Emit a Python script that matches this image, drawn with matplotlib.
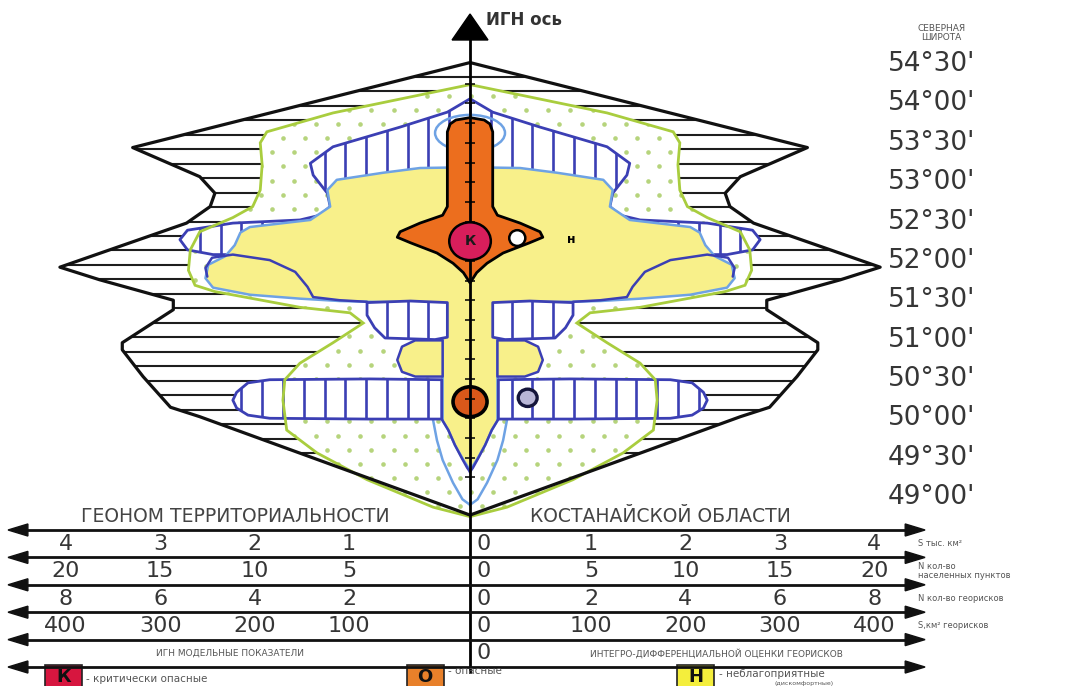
import numpy as np
import matplotlib
matplotlib.use("Agg")
import matplotlib.pyplot as plt
from matplotlib.patches import Polygon, Ellipse, Rectangle

plt.rcParams["font.family"] = ["DejaVu Sans"]

# ---------------------------------------------------------------- data ----
# Northern latitude scale (degrees)
lat_values = [54.5, 54.0, 53.5, 53.0, 52.5, 52.0, 51.5, 51.0, 50.5, 50.0, 49.5, 49.0]
lat_labels = ["54°30'", "54°00'", "53°30'", "53°00'", "52°30'", "52°00'",
              "51°30'", "51°00'", "50°30'", "50°00'", "49°30'", "49°00'"]

# Zone outlines: latitude (deg) and half-width (thousand km²) along the
# western edge; the eastern edge mirrors it across the ИГН axis.
territory_lat = [54.52, 53.44, 53.07, 52.86, 52.69, 52.48, 51.92, 51.76, 51.50,
                 51.38, 50.96, 50.87, 50.53, 50.14, 50.02, 48.77]
territory_w = [0.00, 3.57, 2.86, 2.70, 2.75, 3.00, 4.34, 3.92, 3.14,
               3.14, 3.68, 3.68, 3.46, 3.17, 2.86, 0.00]

dotted_lat = [54.24, 53.88, 53.64, 53.50, 53.22, 52.90, 52.69, 52.55, 52.37, 52.14,
              51.88, 51.69, 51.61, 51.41, 51.34, 51.21, 50.96, 50.70, 50.49, 50.23,
              49.85, 49.56, 49.22, 48.87, 48.75]
dotted_w = [0.00, 1.45, 2.15, 2.22, 2.20, 2.22, 2.30, 2.51, 2.86, 2.96,
            2.98, 2.91, 2.70, 1.80, 1.27, 1.13, 1.45, 1.80, 1.96, 1.98,
            1.94, 1.62, 1.09, 0.39, 0.00]

hatched_lat = [54.06, 53.89, 53.70, 53.45, 53.24, 53.09, 52.86, 52.69, 52.58, 52.52,
               52.48, 52.39, 52.27, 52.14, 52.08, 52.08, 52.20, 52.20]
hatched_w = [0.00, 0.24, 0.74, 1.45, 1.69, 1.66, 1.51, 1.48, 1.59, 1.80,
             2.51, 2.99, 3.07, 2.99, 2.72, 2.43, 1.59, 0.00]

blob_lat = [51.47, 51.49, 51.47, 51.31, 51.15, 51.02, 51.00, 51.03]
blob_w = [0.24, 0.63, 1.09, 1.09, 1.01, 0.90, 0.37, 0.24]

band_lat = [50.49, 50.50, 50.49, 50.45, 50.33, 50.23, 50.13, 50.04, 50.00, 49.99, 49.99]
band_w = [0.30, 1.06, 2.12, 2.35, 2.47, 2.51, 2.47, 2.35, 2.12, 1.06, 0.30]

unfav_lat = [53.19, 53.18, 53.12, 53.03, 52.90, 52.69, 52.52, 52.43, 52.36, 52.20,
             52.06, 51.95, 51.78, 51.66, 51.57, 51.52, 51.49, 51.48, 51.47, 49.97,
             49.85, 49.66, 49.47, 49.34]
unfav_w = [0.00, 0.53, 0.92, 1.41, 1.51, 1.48, 1.69, 2.33, 2.43, 2.49,
           2.59, 2.77, 2.80, 2.72, 2.33, 1.80, 1.38, 1.06, 0.29, 0.29,
           0.23, 0.16, 0.07, 0.00]

bubble_lat = [50.99, 50.99, 50.91, 50.74, 50.59, 50.53, 50.53]
bubble_w = [0.29, 0.58, 0.72, 0.77, 0.72, 0.58, 0.29]

inner_line_lat = [51.48, 51.50, 51.54, 51.67, 51.86, 52.01, 52.08, 52.04, 51.91, 51.80]
inner_line_w = [1.09, 1.38, 1.66, 1.72, 1.85, 2.12, 2.51, 2.73, 2.80, 2.78]

v_line_lat = [49.99, 49.85, 49.66, 49.50, 49.37, 49.32]
v_line_w = [0.30, 0.23, 0.16, 0.09, 0.03, 0.00]

u_line_lat = [49.97, 49.72, 49.47, 49.18, 48.97, 48.90]
u_line_w = [0.39, 0.35, 0.29, 0.18, 0.08, 0.00]

danger_lat = [53.82, 53.79, 53.74, 53.64, 52.69, 52.58, 52.48, 52.37, 52.30,
              52.23, 52.10, 51.97, 51.85, 51.72]
danger_w = [0.00, 0.15, 0.21, 0.24, 0.24, 0.29, 0.53, 0.74, 0.77,
            0.63, 0.35, 0.18, 0.07, 0.00]

# Point objects (x in thousand km², latitude)
critical_pt = (0.0, 52.25)
danger_pt = (0.0, 50.21)
white_pt = (0.50, 52.29)
ring_pt = (0.61, 50.26)
n_label_pt = (1.07, 52.27)
crown_pt = (0.0, 53.625)

# Bottom scales: values on each side of the axis and the row caption
scale_rows = [
    ([1, 2, 3, 4], "S тыс. км²"),
    ([5, 10, 15, 20], "N кол-во\nнаселенных пунктов"),
    ([2, 4, 6, 8], "N кол-во георисков"),
    ([100, 200, 300, 400], "S,км² георисков"),
]

# ---------------------------------------------------------------- style ---
DARK_BLUE = "#3b3fb4"
LIGHT_BLUE = "#6ea2e4"
GREEN = "#a9cd3e"
DOT = "#b6d47c"
YELLOW = "#f8f08a"
ORANGE = "#ec6e1e"
CRIMSON = "#d81e5b"
TEXT = "#363636"

XLIM = (-4.974, 6.550)
YLIM = (46.598, 55.315)

fig = plt.figure(figsize=(10.89, 6.86), dpi=100)
ax = fig.add_axes([0, 0, 1, 1])
ax.set_xlim(*XLIM)
ax.set_ylim(*YLIM)
ax.axis("off")


def mirrored(lat, w):
    lat = np.asarray(lat, float)
    w = np.asarray(w, float)
    return np.column_stack([np.r_[-w, w[::-1]], np.r_[lat, lat[::-1]]])


def side(lat, w, sign):
    return np.column_stack([sign * np.asarray(w, float), np.asarray(lat, float)])


def add_poly(xy, fc, z, ec="none", lw=0):
    p = Polygon(xy, closed=True, fc=fc, ec=ec, lw=lw, zorder=z, joinstyle="round")
    ax.add_patch(p)
    return p


def h_hatch(patch, z):
    lats = np.arange(54.34, 48.6, -0.184)
    lc = ax.hlines(lats, -5, 5, colors="#1e1e1e", linewidths=1.5, zorder=z)
    lc.set_clip_path(patch)


def v_hatch(patch, z):
    xs = np.arange(-0.22 * 22, 0.22 * 22.5, 0.22)
    lc = ax.vlines(xs, 48.5, 54.6, colors=DARK_BLUE, linewidths=1.9, zorder=z)
    lc.set_clip_path(patch)


def dots(patch, z):
    gx, gy = [], []
    for i, yy in enumerate(np.arange(48.7, 54.4, 0.18)):
        off = 0.117 if i % 2 else 0.0
        for xx in np.arange(-3.5 + off, 3.5, 0.234):
            gx.append(xx)
            gy.append(yy)
    sc = ax.scatter(gx, gy, s=11, c=DOT, linewidths=0, zorder=z)
    sc.set_clip_path(patch)


# territory outline with horizontal hatching
terr = add_poly(mirrored(territory_lat, territory_w), "white", 1)
h_hatch(terr, 1.5)
ax.add_patch(Polygon(mirrored(territory_lat, territory_w), closed=True, fc="none",
                     ec="#111111", lw=2.3, zorder=6, joinstyle="round"))

# dotted zone
dz = add_poly(mirrored(dotted_lat, dotted_w), "white", 2)
dots(dz, 2.5)
ax.add_patch(Polygon(mirrored(dotted_lat, dotted_w), closed=True, fc="none",
                     ec=GREEN, lw=2.0, zorder=5.5))

# upper hatched zone
hz = add_poly(mirrored(hatched_lat, hatched_w), "white", 3, ec=DARK_BLUE, lw=2.0)
v_hatch(hz, 3.5)

# unfavourable (yellow) zone
add_poly(mirrored(unfav_lat, unfav_w), YELLOW, 4, ec=LIGHT_BLUE, lw=1.8)
for s in (-1, 1):
    add_poly(side(bubble_lat, bubble_w, s), YELLOW, 4.5, ec=DARK_BLUE, lw=1.8)
    ax.plot(s * np.asarray(inner_line_w), inner_line_lat, color=DARK_BLUE, lw=1.8,
            zorder=4.3, solid_capstyle="round")
    ax.plot(s * np.asarray(v_line_w), v_line_lat, color=DARK_BLUE, lw=1.8, zorder=4.6)
    ax.plot(s * np.asarray(u_line_w), u_line_lat, color=LIGHT_BLUE, lw=1.8, zorder=4.6)
    # hatched blobs and the 50°30' band
    for la, wi in ((blob_lat, blob_w), (band_lat, band_w)):
        p = add_poly(side(la, wi, s), "white", 5, ec=DARK_BLUE, lw=2.0)
        v_hatch(p, 5.1)

# crown ellipse around the top of the dangerous zone
ax.add_patch(Ellipse(crown_pt, 0.74, 0.46, fc="none", ec=LIGHT_BLUE, lw=1.8, zorder=6.5))

# dangerous (orange) zone along the axis
add_poly(mirrored(danger_lat, danger_w), ORANGE, 7, ec="black", lw=2.0)

# central ИГН axis with ticks and arrow head
axis_bottom, axis_tip, head_base, head_half = 46.776, 55.137, 54.807, 0.19
ax.plot([0, 0], [axis_bottom, head_base + 0.02], color="black", lw=2.0, zorder=8)
ax.fill([-head_half, head_half, 0], [head_base, head_base, axis_tip], color="black", zorder=8)
tick_lats = np.arange(49.25, 54.26, 0.25)
ax.hlines(tick_lats, -0.05, 0.05, colors="black", linewidths=1.1, zorder=8.2)

# point objects
ax.add_patch(Ellipse(danger_pt, 0.36, 0.38, fc="#d9581a", ec="black", lw=2.6, zorder=7.5))
ax.add_patch(Ellipse(critical_pt, 0.44, 0.48, fc=CRIMSON, ec="black", lw=1.8, zorder=9))
ax.text(critical_pt[0], critical_pt[1], "К", ha="center", va="center", fontsize=10,
        fontweight="bold", color="#1a1a1a", zorder=10)
ax.add_patch(Ellipse(white_pt, 0.17, 0.20, fc="white", ec="black", lw=1.8, zorder=9))
ax.add_patch(Ellipse(ring_pt, 0.20, 0.22, fc="#b9b6d6", ec="#15153a", lw=2.4, zorder=9))
ax.text(n_label_pt[0], n_label_pt[1], "н", ha="center", va="center", fontsize=9,
        fontweight="bold", color="black", zorder=10)

# latitude labels
for v, lab in zip(lat_values, lat_labels):
    ax.text(4.42, v, lab, ha="left", va="center", fontsize=19, color=TEXT)
ax.text(4.99, 54.90, "СЕВЕРНАЯ\nШИРОТА", ha="center", va="center", fontsize=6.5,
        color="#555555", linespacing=1.0)
ax.text(0.17, 55.06, "ИГН ось", ha="left", va="center", fontsize=12,
        fontweight="bold", color="#333333")

# ---------------------------------------------------------- bottom scales --
tab = fig.add_axes([0, 0, 1, 181 / 686])
tab.set_xlim(*XLIM)
tab.set_ylim(5.693, -0.912)
tab.axis("off")
tab.patch.set_alpha(0)

left_tip, right_tip, head_len, head_h = -4.889, 4.815, 0.21, 0.22
for r in range(6):
    tab.plot([left_tip + head_len, right_tip - head_len], [r, r], color="#111111", lw=2.0)
    tab.fill([left_tip, left_tip + head_len, left_tip + head_len],
             [r, r - head_h, r + head_h], color="#111111")
    tab.fill([right_tip, right_tip - head_len, right_tip - head_len],
             [r, r - head_h, r + head_h], color="#111111")

tab.text(-2.48, -0.5, "ГЕОНОМ ТЕРРИТОРИАЛЬНОСТИ", ha="center", va="center",
         fontsize=13.5, color="#444444")
tab.text(2.02, -0.5, "КОСТАНАЙСКОЙ ОБЛАСТИ", ha="center", va="center",
         fontsize=13.5, color="#444444")

for i, (vals, unit) in enumerate(scale_rows):
    r = i + 0.5
    for k, v in enumerate(vals, start=1):
        tab.text(-(k + 0.28), r, str(v), ha="center", va="center", fontsize=16, color=TEXT)
        tab.text(k + 0.28, r, str(v), ha="center", va="center", fontsize=16, color=TEXT)
    tab.text(0.07, r, "0", ha="left", va="center", fontsize=16, color=TEXT)
    tab.text(4.74, r, unit, ha="left", va="center", fontsize=6, color="#555555",
             linespacing=1.0)

tab.text(0.07, 4.5, "0", ha="left", va="center", fontsize=16, color=TEXT)
tab.text(-2.54, 4.5, "ИГН МОДЕЛЬНЫЕ ПОКАЗАТЕЛИ", ha="center", va="center",
         fontsize=6.5, color="#555555")
tab.text(2.61, 4.5, "ИНТЕГРО-ДИФФЕРЕНЦИАЛЬНОЙ ОЦЕНКИ ГЕОРИСКОВ", ha="center",
         va="center", fontsize=6.5, color="#555555")

# legend
legend_items = [
    (-4.50, "К", "#d7163f", "- критически опасные", 5.45),
    (-0.67, "О", "#e8802a", "- опасные", 5.15),
    (2.19, "Н", "#f4ee3c", "- неблагоприятные", 5.26),
]
for x0, letter, col, desc, ty in legend_items:
    tab.add_patch(Rectangle((x0, 4.92), 0.39, 1.1, fc=col, ec="#222222", lw=1.2))
    tab.text(x0 + 0.195, 5.36, letter, ha="center", va="center", fontsize=13,
             fontweight="bold", color="#111111")
    tab.text(x0 + 0.44, ty, desc, ha="left", va="center", fontsize=7.5, color="#555555")
tab.text(3.53, 5.60, "(дискомфортные)", ha="center", va="center", fontsize=4.5,
         color="#555555")

fig.savefig("out.png", dpi=100)
